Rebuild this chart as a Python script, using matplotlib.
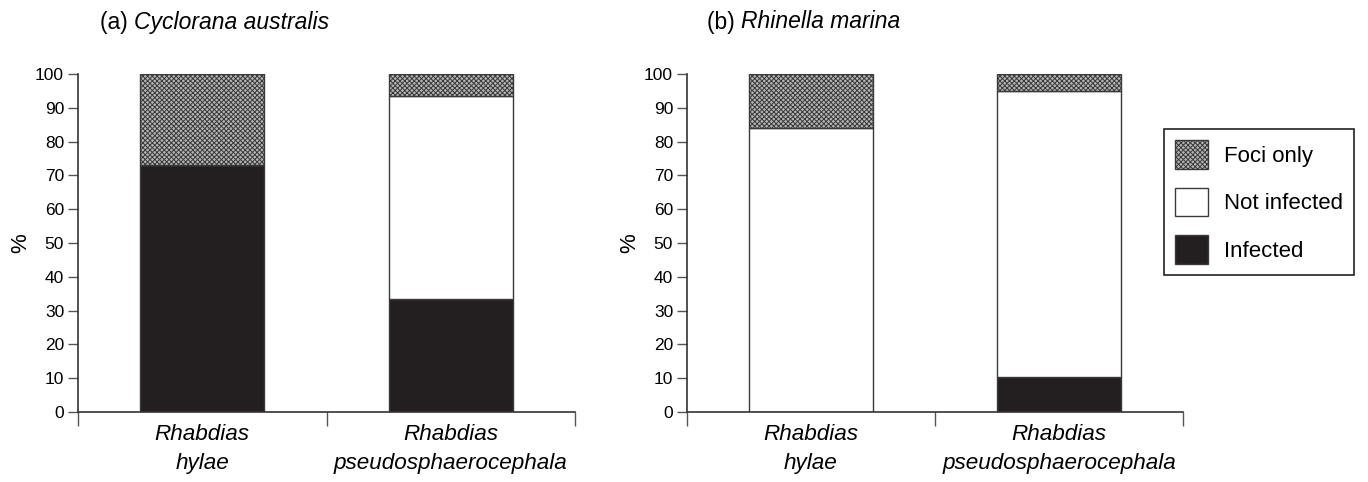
import matplotlib.pyplot as plt
from matplotlib.patches import Patch
import numpy as np

plt.rcParams['font.family'] = ['Liberation Sans', 'DejaVu Sans']
plt.rcParams['hatch.linewidth'] = 0.7
plt.rcParams['hatch.color'] = '#505050'

# data (percent of animals)
parasites = ['Rhabdias\nhylae', 'Rhabdias\npseudosphaerocephala']
panel_titles = ['Cyclorana australis', 'Rhinella marina']
panel_tags = ['(a) ', '(b) ']
infected = [[73.0, 33.5], [0.0, 10.5]]
not_infected = [[0.0, 60.0], [84.0, 84.5]]
foci_only = [[27.0, 6.5], [16.0, 5.0]]

INF_COL = '#231f20'
EDGE = '#3a3a3a'
FOCI_FACE = '#b4b4b4'
FOCI_HATCH = 'xxxxxxx'


def draw_panel(ax, inf, notinf, foci):
    x = np.arange(len(parasites))
    inf = np.array(inf)
    notinf = np.array(notinf)
    foci = np.array(foci)
    ax.bar(x, inf, width=0.5, color=INF_COL, edgecolor=EDGE, linewidth=1)
    ax.bar(x, notinf, width=0.5, bottom=inf, color='white', edgecolor=EDGE, linewidth=1)
    ax.bar(x, foci, width=0.5, bottom=inf + notinf, color=FOCI_FACE,
           edgecolor=EDGE, linewidth=1, hatch=FOCI_HATCH)
    ax.set_xlim(-0.5, len(parasites) - 0.5)
    ax.set_ylim(0, 100)
    ax.set_yticks(np.arange(0, 101, 10))
    ax.tick_params(axis='y', labelsize=12.5, length=7, width=1, color='#555555', pad=3)
    # boundary ticks on the x axis, labels between them
    ax.set_xticks(np.arange(-0.5, len(parasites)))
    ax.set_xticklabels([])
    ax.tick_params(axis='x', which='major', length=10, width=1, color='#555555', direction='out')
    ax.set_xticks(x, minor=True)
    ax.set_xticklabels(parasites, minor=True, fontsize=16.2, style='italic',
                       linespacing=1.45)
    ax.tick_params(axis='x', which='minor', length=0, pad=9)
    for s in ['top', 'right']:
        ax.spines[s].set_visible(False)
    for s in ['left', 'bottom']:
        ax.spines[s].set_color('#333333')
        ax.spines[s].set_linewidth(1.2)
    ax.set_ylabel('%', fontsize=16)
    ax.yaxis.set_label_coords(-0.094, 0.5)


fig = plt.figure(figsize=(13.68, 4.82), dpi=100)
ax1 = fig.add_axes([78 / 1368, 1 - 412 / 482, (575 - 78) / 1368, 338 / 482])
ax2 = fig.add_axes([687 / 1368, 1 - 412 / 482, (1183 - 687) / 1368, 338 / 482])

for i, ax in enumerate([ax1, ax2]):
    draw_panel(ax, infected[i], not_infected[i], foci_only[i])

for i, xpix in enumerate([100, 707]):
    tag = fig.text(xpix / 1368, 1 - 22 / 482, panel_tags[i], fontsize=16.5,
                   va='center', ha='left')
    fig.canvas.draw()
    tbox = tag.get_window_extent()
    fig.text(tbox.x1 / 1368, 1 - 22 / 482, panel_titles[i], fontsize=16.5,
             style='italic', va='center', ha='left')

handles = [
    Patch(facecolor=FOCI_FACE, edgecolor=EDGE, hatch=FOCI_HATCH, label='Foci only'),
    Patch(facecolor='white', edgecolor=EDGE, label='Not infected'),
    Patch(facecolor=INF_COL, edgecolor=EDGE, label='Infected'),
]
leg = fig.legend(handles=handles, loc='upper left',
                 bbox_to_anchor=(1164 / 1368, 1 - 129 / 482), borderaxespad=0,
                 fontsize=16, handlelength=1.5, handleheight=1.6,
                 handletextpad=0.7, labelspacing=0.85, borderpad=0.5,
                 fancybox=False, framealpha=1, edgecolor='#222222')
leg.get_frame().set_linewidth(1.2)

fig.savefig('out.png', dpi=100)
